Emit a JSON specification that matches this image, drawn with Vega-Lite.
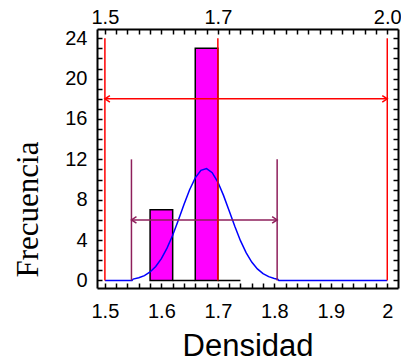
{
  "$schema": "https://vega.github.io/schema/vega-lite/v6.json",
  "width": 301,
  "height": 259,
  "autosize": "none",
  "padding": {"left": 97, "top": 29, "right": 3, "bottom": 75},
  "background": "white",
  "config": {
    "view": {"stroke": null},
    "axis": {
      "grid": false,
      "domainColor": "black",
      "domainWidth": 2,
      "tickColor": "black",
      "tickWidth": 1.5,
      "tickSize": -5,
      "labelColor": "black",
      "labelFont": "Liberation Sans",
      "labelFontSize": 20,
      "labelFlush": false,
      "labelOverlap": false
    }
  },
  "datasets": {
    "bins": [
      {"lo": 1.58, "hi": 1.62, "n": 7},
      {"lo": 1.62, "hi": 1.66, "n": 0},
      {"lo": 1.66, "hi": 1.70, "n": 23},
      {"lo": 1.70, "hi": 1.74, "n": 0}
    ],
    "curve": [
      {"i": 0, "x": 1.5, "f": 0},
      {"i": 1, "x": 1.548, "f": 0},
      {"i": 2, "x": 1.55, "f": 0.13},
      {"i": 3, "x": 1.56, "f": 0.26},
      {"i": 4, "x": 1.57, "f": 0.48},
      {"i": 5, "x": 1.58, "f": 0.84},
      {"i": 6, "x": 1.59, "f": 1.38},
      {"i": 7, "x": 1.60, "f": 2.16},
      {"i": 8, "x": 1.61, "f": 3.20},
      {"i": 9, "x": 1.62, "f": 4.48},
      {"i": 10, "x": 1.63, "f": 5.97},
      {"i": 11, "x": 1.64, "f": 7.52},
      {"i": 12, "x": 1.65, "f": 8.99},
      {"i": 13, "x": 1.66, "f": 10.17},
      {"i": 14, "x": 1.67, "f": 10.91},
      {"i": 15, "x": 1.68, "f": 11.09},
      {"i": 16, "x": 1.69, "f": 10.68},
      {"i": 17, "x": 1.70, "f": 9.75},
      {"i": 18, "x": 1.71, "f": 8.43},
      {"i": 19, "x": 1.72, "f": 6.90},
      {"i": 20, "x": 1.73, "f": 5.36},
      {"i": 21, "x": 1.74, "f": 3.94},
      {"i": 22, "x": 1.75, "f": 2.75},
      {"i": 23, "x": 1.76, "f": 1.82},
      {"i": 24, "x": 1.77, "f": 1.14},
      {"i": 25, "x": 1.78, "f": 0.67},
      {"i": 26, "x": 1.79, "f": 0.38},
      {"i": 27, "x": 1.80, "f": 0.20},
      {"i": 28, "x": 1.806, "f": 0.12},
      {"i": 29, "x": 1.808, "f": 0},
      {"i": 30, "x": 2.0, "f": 0}
    ],
    "limits": [
      {"v": 1.5, "name": "LSL"},
      {"v": 1.7, "name": "Nominal"},
      {"v": 2.0, "name": "USL"}
    ],
    "tolerance": [
      {"v": 1.547, "name": "-3s"},
      {"v": 1.805, "name": "+3s"}
    ],
    "arrows": [
      {"x": 1.5, "y": 18, "end": "lo", "line": "spec"},
      {"x": 2.0, "y": 18, "end": "hi", "line": "spec"},
      {"x": 1.547, "y": 6, "end": "lo", "line": "tol"},
      {"x": 1.805, "y": 6, "end": "hi", "line": "tol"}
    ]
  },
  "layer": [
    {
      "data": {"name": "bins"},
      "mark": {"type": "rect", "fill": "#FF00FF", "stroke": "black", "strokeWidth": 1.5},
      "encoding": {
        "x": {
          "field": "lo", "type": "quantitative",
          "scale": {"domain": [1.486, 2.019], "nice": false, "zero": false},
          "axis": {
            "orient": "bottom",
            "values": [1.5,1.52,1.54,1.56,1.58,1.6,1.62,1.64,1.66,1.68,1.7,1.72,1.74,1.76,1.78,1.8,1.82,1.84,1.86,1.88,1.9,1.92,1.94,1.96,1.98,2.0],
            "labelExpr": "abs(datum.value*10-round(datum.value*10))<0.001 ? format(datum.value,'.1~f') : ''",
            "labelPadding": 18,
            "title": "Densidad",
            "titleFont": "Liberation Sans",
            "titleFontSize": 31,
            "titleFontWeight": "normal",
            "titleColor": "black",
            "titleBaseline": "alphabetic",
            "titleY": 67
          }
        },
        "x2": {"field": "hi"},
        "y": {
          "field": "n", "type": "quantitative",
          "scale": {"domain": [-0.75, 24.92], "nice": false, "zero": false},
          "axis": {
            "orient": "left",
            "values": [0,1,2,3,4,5,6,7,8,9,10,11,12,13,14,15,16,17,18,19,20,21,22,23,24],
            "labelExpr": "datum.value % 4 == 0 ? datum.label : ''",
            "labelPadding": 15,
            "title": "Frecuencia",
            "titleFont": "Liberation Serif",
            "titleFontSize": 31,
            "titleFontWeight": "normal",
            "titleColor": "black",
            "titleAngle": -90,
            "titleAlign": "center",
            "titleBaseline": "alphabetic",
            "titleX": -60,
            "titleY": 180
          }
        },
        "y2": {"datum": 0}
      }
    },
    {
      "data": {"name": "curve"},
      "mark": {"type": "line", "color": "#0000FF", "strokeWidth": 1.5},
      "encoding": {
        "x": {
          "field": "x", "type": "quantitative",
          "scale": {"domain": [1.486, 2.019], "nice": false, "zero": false},
          "axis": {
            "orient": "top",
            "values": [1.5,1.52,1.54,1.56,1.58,1.6,1.62,1.64,1.66,1.68,1.7,1.72,1.74,1.76,1.78,1.8,1.82,1.84,1.86,1.88,1.9,1.92,1.94,1.96,1.98,2.0],
            "labelExpr": "(abs(datum.value-1.5)<0.001 || abs(datum.value-1.7)<0.001 || abs(datum.value-2.0)<0.001) ? format(datum.value,'.1f') : ''",
            "labelPadding": 7,
            "title": null
          }
        },
        "y": {
          "field": "f", "type": "quantitative",
          "scale": {"domain": [-0.75, 24.92], "nice": false, "zero": false},
          "axis": {
            "orient": "right",
            "values": [0,1,2,3,4,5,6,7,8,9,10,11,12,13,14,15,16,17,18,19,20,21,22,23,24],
            "labels": false,
            "title": null
          }
        },
        "order": {"field": "i", "type": "quantitative"}
      }
    },
    {
      "data": {"name": "tolerance"},
      "mark": {"type": "rule", "color": "#8E1F5B", "strokeWidth": 1.5},
      "encoding": {
        "x": {"field": "v", "type": "quantitative", "axis": null},
        "y": {"datum": 0, "type": "quantitative", "axis": null},
        "y2": {"datum": 12}
      }
    },
    {
      "data": {"name": "tolerance"},
      "transform": [{"aggregate": [{"op": "min", "field": "v", "as": "lo"}, {"op": "max", "field": "v", "as": "hi"}]}],
      "mark": {"type": "rule", "color": "#8E1F5B", "strokeWidth": 1.5},
      "encoding": {
        "x": {"field": "lo", "type": "quantitative", "axis": null},
        "x2": {"field": "hi"},
        "y": {"datum": 6, "type": "quantitative", "axis": null}
      }
    },
    {
      "data": {"name": "limits"},
      "mark": {"type": "rule", "color": "#FF0000", "strokeWidth": 1.5},
      "encoding": {
        "x": {"field": "v", "type": "quantitative", "axis": null},
        "y": {"datum": 0, "type": "quantitative", "axis": null},
        "y2": {"datum": 24}
      }
    },
    {
      "data": {"name": "limits"},
      "transform": [{"aggregate": [{"op": "min", "field": "v", "as": "lo"}, {"op": "max", "field": "v", "as": "hi"}]}],
      "mark": {"type": "rule", "color": "#FF0000", "strokeWidth": 1.5},
      "encoding": {
        "x": {"field": "lo", "type": "quantitative", "axis": null},
        "x2": {"field": "hi"},
        "y": {"datum": 18, "type": "quantitative", "axis": null}
      }
    },
    {
      "data": {"name": "arrows"},
      "mark": {"type": "point", "filled": false, "strokeWidth": 1.5, "opacity": 1, "size": 25},
      "encoding": {
        "x": {"field": "x", "type": "quantitative", "axis": null},
        "y": {"field": "y", "type": "quantitative", "axis": null},
        "shape": {"field": "end", "type": "nominal", "scale": {"domain": ["lo", "hi"], "range": ["M2,-1.3L0,0L2,1.3", "M-2,-1.3L0,0L-2,1.3"]}, "legend": null},
        "stroke": {"field": "line", "type": "nominal", "scale": {"domain": ["spec", "tol"], "range": ["#FF0000", "#8E1F5B"]}, "legend": null}
      }
    }
  ],
  "resolve": {"axis": {"x": "independent", "y": "independent"}}
}
